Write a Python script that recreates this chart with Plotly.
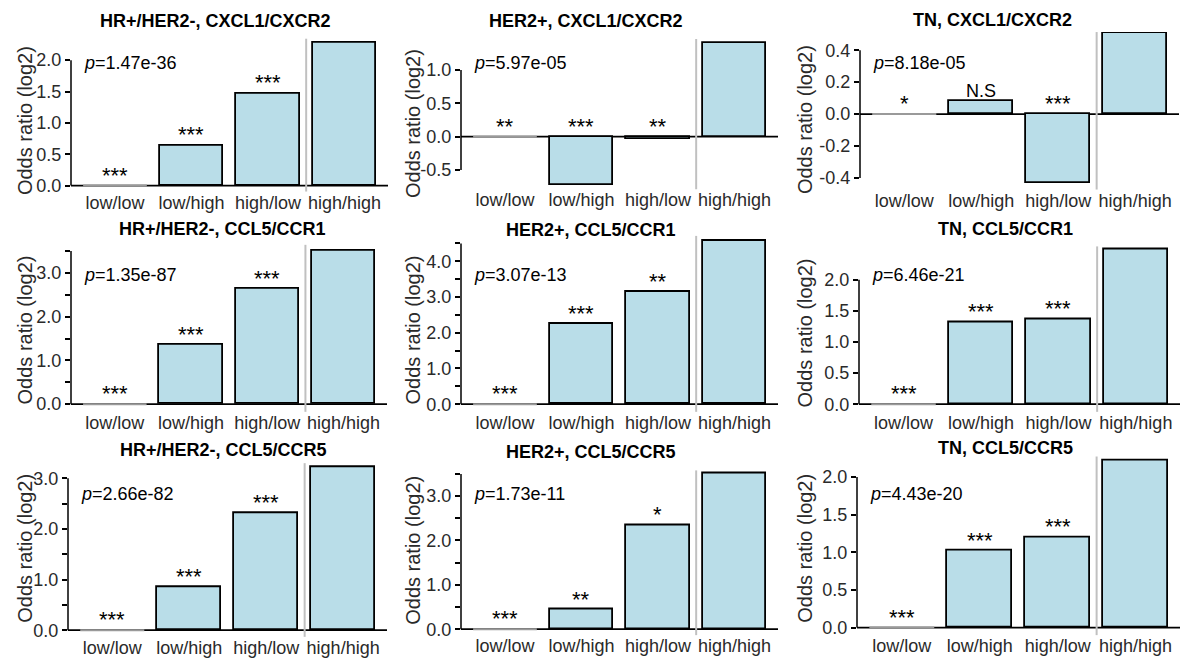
import math
import plotly.graph_objects as go

# ---------------- data ----------------
categories = ["low/low", "low/high", "high/low", "high/high"]

panel_titles = [
    "HR+/HER2-, CXCL1/CXCR2", "HER2+, CXCL1/CXCR2", "TN, CXCL1/CXCR2",
    "HR+/HER2-, CCL5/CCR1", "HER2+, CCL5/CCR1", "TN, CCL5/CCR1",
    "HR+/HER2-, CCL5/CCR5", "HER2+, CCL5/CCR5", "TN, CCL5/CCR5",
]
p_values = ["1.47e-36", "5.97e-05", "8.18e-05",
            "1.35e-87", "3.07e-13", "6.46e-21",
            "2.66e-82", "1.73e-11", "4.43e-20"]

odds_hr_cxcl1 = [0.0, 0.64, 1.47, 2.28]
odds_her2_cxcl1 = [0.0, -0.72, -0.03, 1.41]
odds_tn_cxcl1 = [0.0, 0.083, -0.43, 0.508]
odds_hr_ccr1 = [0.0, 1.35, 2.64, 3.51]
odds_her2_ccr1 = [0.0, 2.24, 3.14, 4.57]
odds_tn_ccr1 = [0.0, 1.32, 1.37, 2.49]
odds_hr_ccr5 = [0.0, 0.86, 2.31, 3.22]
odds_her2_ccr5 = [0.0, 0.44, 2.34, 3.52]
odds_tn_ccr5 = [0.0, 1.02, 1.20, 2.22]

sig_hr_cxcl1 = ["***", "***", "***"]
sig_her2_cxcl1 = ["**", "***", "**"]
sig_tn_cxcl1 = ["*", "N.S", "***"]
sig_hr_ccr1 = ["***", "***", "***"]
sig_her2_ccr1 = ["***", "***", "**"]
sig_tn_ccr1 = ["***", "***", "***"]
sig_hr_ccr5 = ["***", "***", "***"]
sig_her2_ccr5 = ["***", "**", "*"]
sig_tn_ccr5 = ["***", "***", "***"]

all_values = [odds_hr_cxcl1, odds_her2_cxcl1, odds_tn_cxcl1,
              odds_hr_ccr1, odds_her2_ccr1, odds_tn_ccr1,
              odds_hr_ccr5, odds_her2_ccr5, odds_tn_ccr5]
all_sig = [sig_hr_cxcl1, sig_her2_cxcl1, sig_tn_cxcl1,
           sig_hr_ccr1, sig_her2_ccr1, sig_tn_ccr1,
           sig_hr_ccr5, sig_her2_ccr5, sig_tn_ccr5]

# ---------------- layout / style ----------------
W, H = 1181, 658
FONT = "Liberation Sans"
FILL = "#b9dde8"
TEXT = "#2a2a2a"
BAR_W = 0.833

# plot areas in pixels: (left, right, top, bottom)
panel_px = [
    (71, 388, 39, 193), (461, 778, 39.3, 190.7), (860, 1179, 32.3, 191),
    (71, 387, 246.7, 415), (461, 778, 237.7, 415), (859, 1180, 248.3, 415),
    (68, 387, 466.7, 641.7), (461, 778, 474, 640), (857, 1180, 460, 640),
]
y_ranges = [
    [-0.095, 2.342], [-0.79, 1.466], [-0.473, 0.514],
    [-0.175, 3.64], [-0.214, 4.71], [-0.123, 2.536],
    [-0.131, 3.30], [-0.134, 3.58], [-0.10, 2.273],
]
x_range = [-0.575, 3.57]
label_step = [0.5, 0.5, 0.2, 1, 1, 0.5, 1, 1, 0.5]
tick_step = [0.5, 0.5, 0.2, 0.5, 0.5, 0.5, 0.5, 0.5, 0.5]

title_px = [(215, 21), (586, 21), (993, 20),
            (222, 231), (591, 232), (1006, 231),
            (223, 453), (591, 455), (1006, 451)]
ytitle_px = [(25, 122), (413, 125), (805, 121),
             (25, 333), (413, 333), (805, 336),
             (25, 553), (413, 555), (805, 553)]
p_row_y = [63, 277, 498]

positions = list(range(len(categories)))

fig = go.Figure()
shapes = []
annotations = []

for i in range(9):
    vals = all_values[i]
    sig = all_sig[i]
    xa = "x" if i == 0 else f"x{i + 1}"
    ya = "y" if i == 0 else f"y{i + 1}"
    left, right, top, bottom = panel_px[i]

    # bars (reference category drawn as flat gray line)
    fig.add_trace(go.Bar(
        x=positions[1:], y=vals[1:], width=BAR_W,
        marker=dict(color=FILL, line=dict(color="black", width=1.8)),
        xaxis=xa, yaxis=ya, showlegend=False, hoverinfo="skip"))
    fig.add_trace(go.Scatter(
        x=[positions[0] - BAR_W / 2, positions[0] + BAR_W / 2],
        y=[vals[0], vals[0]], mode="lines",
        line=dict(color="#9a9a9a", width=2),
        xaxis=xa, yaxis=ya, showlegend=False, hoverinfo="skip"))

    # ticks computed from data range
    lo, hi = min(min(vals), 0), max(vals)
    st = tick_step[i]
    k0 = math.ceil(lo / st - 1e-9)
    k1 = math.floor(hi / st + 1e-9)
    tickvals = [round(k * st, 6) for k in range(k0, k1 + 1)]
    ls = label_step[i]
    ticktext = [f"{v:.1f}" if abs(v / ls - round(v / ls)) < 1e-6 else "" for v in tickvals]

    fig.layout[("xaxis" if i == 0 else f"xaxis{i + 1}")] = dict(
        domain=[left / W, right / W], range=x_range, anchor=ya,
        tickvals=positions, ticktext=categories, ticks="",
        showline=False, showgrid=False, zeroline=False,
        tickfont=dict(family=FONT, size=18, color=TEXT),
        ticklabelstandoff=-2, fixedrange=True)
    fig.layout[("yaxis" if i == 0 else f"yaxis{i + 1}")] = dict(
        domain=[1 - bottom / H, 1 - top / H], range=y_ranges[i], anchor=xa,
        tickvals=tickvals, ticktext=ticktext, ticks="outside",
        ticklen=5, tickwidth=1.5, tickcolor="black",
        showline=False, showgrid=False, zeroline=False,
        tickfont=dict(family=FONT, size=18, color=TEXT), fixedrange=True)

    # zero line
    shapes.append(dict(type="line", xref=f"{xa} domain", yref=ya,
                       x0=0, x1=1, y0=0, y1=0, layer="below",
                       line=dict(color="black", width=1.8)))
    # y-axis line spanning tick range
    shapes.append(dict(type="line", xref=f"{xa} domain", yref=ya,
                       x0=0, x1=0, y0=tickvals[0], y1=tickvals[-1],
                       line=dict(color="black", width=1.5)))
    # separator before high/high
    sep_x = (positions[2] + positions[3]) / 2
    shapes.append(dict(type="line", xref=xa, yref=f"{ya} domain",
                       x0=sep_x, x1=sep_x, y0=0, y1=1,
                       line=dict(color="#c0c0c0", width=2)))

    # significance marks
    for j, s in enumerate(sig):
        annotations.append(dict(
            x=positions[j], y=max(vals[j], 0), xref=xa, yref=ya,
            text=s, showarrow=False, yanchor="bottom", xanchor="center",
            yshift=-4 if s != "N.S" else -2,
            font=dict(family=FONT, size=22 if s != "N.S" else 18, color="black")))

    # p-value
    annotations.append(dict(
        x=(left + 11) / W, y=1 - p_row_y[i // 3] / H, xref="paper", yref="paper",
        text=f"<i>p</i>={p_values[i]}", showarrow=False,
        xanchor="left", yanchor="middle",
        font=dict(family=FONT, size=18, color="black")))

    # panel title
    tx, ty = title_px[i]
    annotations.append(dict(
        x=tx / W, y=1 - ty / H, xref="paper", yref="paper",
        text=f"<b>{panel_titles[i]}</b>", showarrow=False,
        xanchor="center", yanchor="middle",
        font=dict(family=FONT, size=18, color="black")))

    # y-axis title
    yx, yy = ytitle_px[i]
    annotations.append(dict(
        x=yx / W, y=1 - yy / H, xref="paper", yref="paper",
        text="Odds ratio (log2)", showarrow=False, textangle=-90,
        xanchor="center", yanchor="middle",
        font=dict(family=FONT, size=20, color=TEXT)))

fig.update_layout(
    width=W, height=H, autosize=False,
    margin=dict(l=0, r=0, t=0, b=0),
    paper_bgcolor="white", plot_bgcolor="white",
    shapes=shapes, annotations=annotations,
    bargap=0, showlegend=False,
)

fig.write_html("out.html", config={"displayModeBar": False},
               post_script="document.body.style.margin='0px';")
